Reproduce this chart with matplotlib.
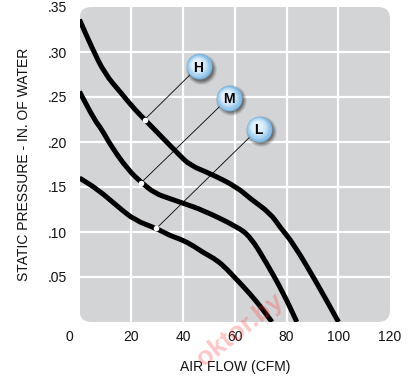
import matplotlib
matplotlib.use("Agg")
import matplotlib.pyplot as plt
from matplotlib.patches import FancyBboxPatch, PathPatch
from matplotlib.path import Path
from matplotlib.transforms import IdentityTransform, ScaledTranslation

plt.rcParams['font.family'] = ['Liberation Sans', 'DejaVu Sans']

# ---- data ----
H_x = [0, 4.6, 9.7, 16.2, 21.4, 25.2, 33, 38.1, 42.7, 50.5, 60.8, 66, 73.7, 77.6, 82.7, 91.8, 100.1]
H_y = [.336, .306, .276, .254, .236, .225, .202, .187, .174, .165, .150, .137, .121, .105, .087, .043, .0]
M_x = [0, 5.9, 8.4, 12.3, 18.8, 23.9, 29.1, 35, 40, 47.9, 60.8, 66, 72.4, 78.8, 84]
M_y = [.256, .224, .215, .195, .169, .155, .143, .137, .132, .124, .106, .095, .065, .032, .0]
L_x = [0, 7.2, 14.9, 21.4, 29.7, 35, 38.1, 42.7, 47.9, 51.8, 55.5, 60.8, 66, 70, 74.4]
L_y = [.160, .147, .128, .113, .104, .096, .093, .087, .077, .071, .063, .047, .031, .017, .0]

labels = ['H', 'M', 'L']
dot_x = [25.2, 23.9, 29.7]
dot_y = [.225, .155, .104]
bubble_x = [46, 57.6, 69.2]
bubble_y = [.284, .249, .215]

x_ticks = [0, 20, 40, 60, 80, 100, 120]
y_ticks = [.05, .10, .15, .20, .25, .30, .35]
y_tick_labels = ['.05', '.10', '.15', '.20', '.25', '.30', '.35']


def smooth_path(xs, ys):
    """Quadratic B-spline style path through the read points (rendering only)."""
    pts = list(zip(xs, ys))
    verts = [pts[0]]
    codes = [Path.MOVETO]
    mid = ((pts[0][0] + pts[1][0]) / 2, (pts[0][1] + pts[1][1]) / 2)
    verts.append(mid)
    codes.append(Path.LINETO)
    for i in range(1, len(pts) - 1):
        nxt = ((pts[i][0] + pts[i + 1][0]) / 2, (pts[i][1] + pts[i + 1][1]) / 2)
        verts += [pts[i], nxt]
        codes += [Path.CURVE3, Path.CURVE3]
    verts.append(pts[-1])
    codes.append(Path.LINETO)
    return Path(verts, codes)


W, Hh = 411, 376
fig = plt.figure(figsize=(W / 100, Hh / 100), dpi=100)
L0, B0, AW, AH = 79.5, 376 - 322, 310.5, 315
ax = fig.add_axes([L0 / W, B0 / Hh, AW / W, AH / Hh])
ax.set_facecolor('none')
for s in ax.spines.values():
    s.set_visible(False)

bg = FancyBboxPatch((L0, B0), AW, AH, boxstyle="round,pad=0,rounding_size=12",
                    transform=IdentityTransform(), facecolor='#d3d4d6',
                    edgecolor='none', zorder=0)
ax.add_patch(bg)

for xv in x_ticks[1:-1]:
    ln = ax.axvline(xv, color='white', lw=1.6, zorder=1)
    ln.set_clip_path(bg)
for yv in y_ticks[:-1]:
    ln = ax.axhline(yv, color='white', lw=1.6, zorder=1)
    ln.set_clip_path(bg)

for xs, ys in [(H_x, H_y), (M_x, M_y), (L_x, L_y)]:
    pp = PathPatch(smooth_path(xs, ys), facecolor='none', edgecolor='black',
                   lw=3.6, capstyle='butt', joinstyle='round', zorder=3)
    ax.add_patch(pp)

ax.set_xlim(0, 120)
ax.set_ylim(0, .35)

# leader lines and dots
for dx, dy, bx, by in zip(dot_x, dot_y, bubble_x, bubble_y):
    ax.plot([dx, bx], [dy, by], color='black', lw=0.6, zorder=4)
    ax.plot(dx, dy, 'o', ms=4, mfc='white', mec='none', zorder=5)

# bubbles
shadow_off = ScaledTranslation(2 / 100, -2.5 / 100, fig.dpi_scale_trans)
for lab, bx, by in zip(labels, bubble_x, bubble_y):
    for k, a in enumerate([0.10, 0.12, 0.15, 0.2]):
        ax.plot(bx, by, 'o', ms=22 - k * 1.5, mfc='black', mec='none', alpha=a,
                transform=ax.transData + shadow_off, zorder=6)
    ax.plot(bx, by, 'o', ms=18.5, mfc='#74b3e0', mec='none', zorder=7)
    sizes = [17.5, 16, 14.5, 13, 11.5, 10, 8]
    cols = ['#88c0e7', '#9acaec', '#abd3f0', '#bcdcf3', '#cbe4f6', '#d8ebf8', '#e3f1fb']
    for i, (sz, c) in enumerate(zip(sizes, cols)):
        off = ScaledTranslation(-(i * 0.25) / 100, (i * 0.35) / 100, fig.dpi_scale_trans)
        ax.plot(bx, by, 'o', ms=sz, mfc=c, mec='none',
                transform=ax.transData + off, zorder=7)
    ax.text(bx, by, lab, ha='center', va='center_baseline', fontsize=10,
            fontweight='bold', color='black', zorder=8)

ax.set_xticks(x_ticks)
ax.set_xticklabels([str(v) for v in x_ticks])
ax.set_yticks(y_ticks)
ax.set_yticklabels(y_tick_labels)
ax.tick_params(axis='both', length=0, labelsize=10, colors='#111111')
ax.tick_params(axis='x', pad=6)
ax.tick_params(axis='y', pad=9)
zero_lab = ax.get_xticklabels()[0]
zero_lab.set_transform(zero_lab.get_transform() + ScaledTranslation(-10 / 100, 0, fig.dpi_scale_trans))

ax.set_xlabel('AIR FLOW (CFM)', fontsize=10, color='#111111')
ax.set_ylabel('STATIC PRESSURE - IN. OF WATER', fontsize=10, color='#111111')
ax.xaxis.set_label_coords(0.5, -(360 - 322) / AH)
ax.yaxis.set_label_coords((31 - L0) / AW, 0.5)

# watermark
fig.text(240 / W, 1 - 330 / Hh, 'oktor.by', rotation=38, fontsize=19,
         fontweight='bold', color='#ff3030', alpha=0.28, ha='center', va='center',
         zorder=10)

fig.savefig('out.png', dpi=100)
